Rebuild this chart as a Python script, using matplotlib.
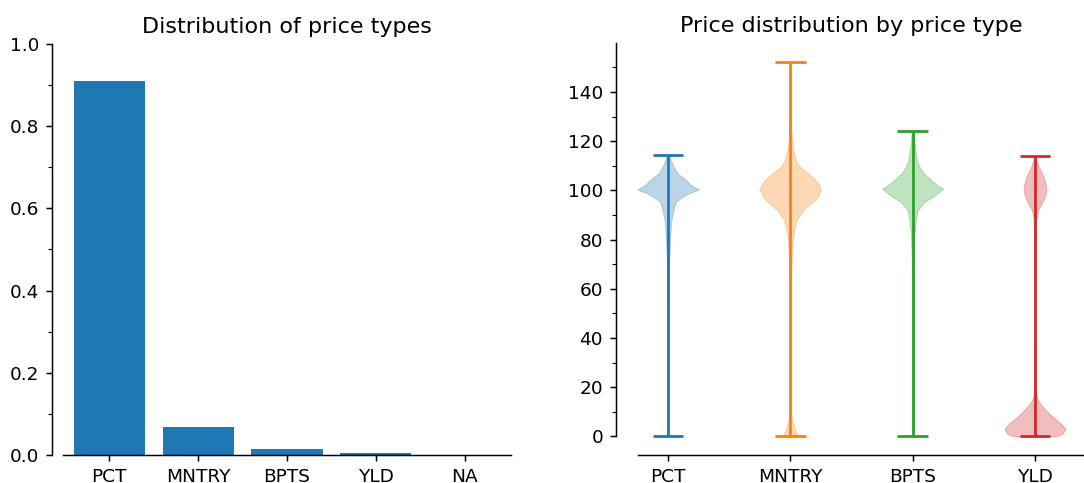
import numpy as np
import matplotlib
matplotlib.use("Agg")
import matplotlib.pyplot as plt
from matplotlib.ticker import MultipleLocator

# ---- left panel: share of each price type ----
price_types = ["PCT", "MNTRY", "BPTS", "YLD", "NA"]
share = [0.910, 0.069, 0.0135, 0.0045, 0.0003]

# ---- right panel: price distributions (shape) ----
violin_types = ["PCT", "MNTRY", "BPTS", "YLD"]
price_min = [0.0, 0.0, 0.0, 0.0]
price_max = [114.5, 152.3, 124.3, 113.8]
price_median = [100.2, 100.3, 100.6, 95.0]
price_mean = [99.0, 99.5, 100.0, 60.0]

pct_price = [0, 20, 40, 55, 65, 73, 81.1, 87.9, 92, 95.4, 97.4, 99, 99.8, 100.4,
             101.2, 102.5, 104.2, 106.9, 109.6, 112.3, 114.5]
pct_density = [0.005, 0.006, 0.008, 0.012, 0.02, 0.045, 0.07, 0.11, 0.18, 0.26,
               0.48, 0.72, 0.9, 1.0, 0.88, 0.72, 0.59, 0.31, 0.18, 0.09, 0.04]

mntry_price = [0, 2, 4, 6.5, 9, 12, 20, 40, 60, 73, 81.1, 87.9, 92, 95.4, 97.4,
               100.4, 102.5, 104.2, 106.9, 109.6, 112.3, 116.4, 120.4, 124.5,
               130, 140, 152.3]
mntry_density = [0.25, 0.18, 0.12, 0.06, 0.025, 0.01, 0.006, 0.006, 0.01, 0.045,
                 0.09, 0.2, 0.42, 0.75, 0.9, 1.0, 0.93, 0.83, 0.59, 0.31, 0.18,
                 0.1, 0.055, 0.03, 0.015, 0.008, 0.005]

bpts_price = [0, 20, 40, 60, 73, 81.1, 87.9, 92, 95.4, 97.4, 99.5, 100.7, 102,
              104.2, 106.9, 109.6, 112.3, 116.4, 120.4, 124.3]
bpts_density = [0.005, 0.005, 0.006, 0.01, 0.035, 0.055, 0.1, 0.17, 0.39, 0.67,
                0.88, 1.0, 0.82, 0.61, 0.36, 0.22, 0.14, 0.09, 0.055, 0.03]

yld_price = [0, 1, 3.1, 5, 6.5, 8, 9.3, 12, 14.6, 17, 20, 40, 60, 80, 85, 88,
             92, 96, 98.5, 100.4, 102.5, 105.6, 108, 109.7, 112.4, 113.8]
yld_density = [0.72, 0.9, 1.0, 0.86, 0.72, 0.58, 0.46, 0.25, 0.1, 0.04, 0.012,
               0.008, 0.008, 0.01, 0.02, 0.04, 0.1, 0.28, 0.35, 0.37, 0.35,
               0.28, 0.19, 0.12, 0.05, 0.03]

violin_prices = [pct_price, mntry_price, bpts_price, yld_price]
violin_densities = [pct_density, mntry_density, bpts_density, yld_density]
colors = ["#1f77b4", "#ff7f0e", "#2ca02c", "#d62728"]

DPI = 133.33
W, H = 1084.0, 483.0
fig = plt.figure(figsize=(W / DPI, H / DPI), dpi=DPI)

# left axes
ax1 = fig.add_axes([63 / W, (H - 455) / H, (511 - 63) / W, (455 - 44) / H])
ax1.bar(price_types, share, width=0.8, color="#1f77b4")
ax1.set_xlim(-0.52, 4.52)
ax1.set_ylim(0, 1.0)
ax1.yaxis.set_major_locator(MultipleLocator(0.2))
ax1.yaxis.set_minor_locator(MultipleLocator(0.1))
ax1.spines["top"].set_visible(False)
ax1.spines["right"].set_visible(False)
ax1.spines["left"].set_position(("outward", 6))
ax1.set_title("Distribution of price types")

# right axes
ax2 = fig.add_axes([616 / W, (H - 455) / H, (1087 - 616) / W, (455 - 43) / H])
for i in range(len(violin_types)):
    stats = dict(coords=np.array(violin_prices[i], dtype=float),
                 vals=np.array(violin_densities[i], dtype=float),
                 mean=price_mean[i], median=price_median[i],
                 min=price_min[i], max=price_max[i])
    parts = ax2.violin([stats], positions=[i + 1], widths=0.5,
                       showmeans=False, showextrema=True, showmedians=False)
    for b in parts["bodies"]:
        b.set_facecolor(colors[i])
        b.set_edgecolor(colors[i])
        b.set_alpha(0.3)
        b.set_linewidth(0.5)
    for key in ("cmaxes", "cmins", "cbars"):
        parts[key].set_color(colors[i])
        parts[key].set_linewidth(1.5)

ax2.set_xlim(0.575, 4.425)
ax2.set_ylim(-7.6, 159.9)
ax2.set_xticks([1, 2, 3, 4])
ax2.set_xticklabels(violin_types)
ax2.yaxis.set_major_locator(MultipleLocator(20))
ax2.yaxis.set_minor_locator(MultipleLocator(10))
ax2.spines["top"].set_visible(False)
ax2.spines["right"].set_visible(False)
ax2.spines["left"].set_bounds(0, 159.9)
ax2.spines["bottom"].set_bounds(0.755, 4.425)
ax2.set_title("Price distribution by price type")

fig.savefig("out.png", dpi=DPI)
